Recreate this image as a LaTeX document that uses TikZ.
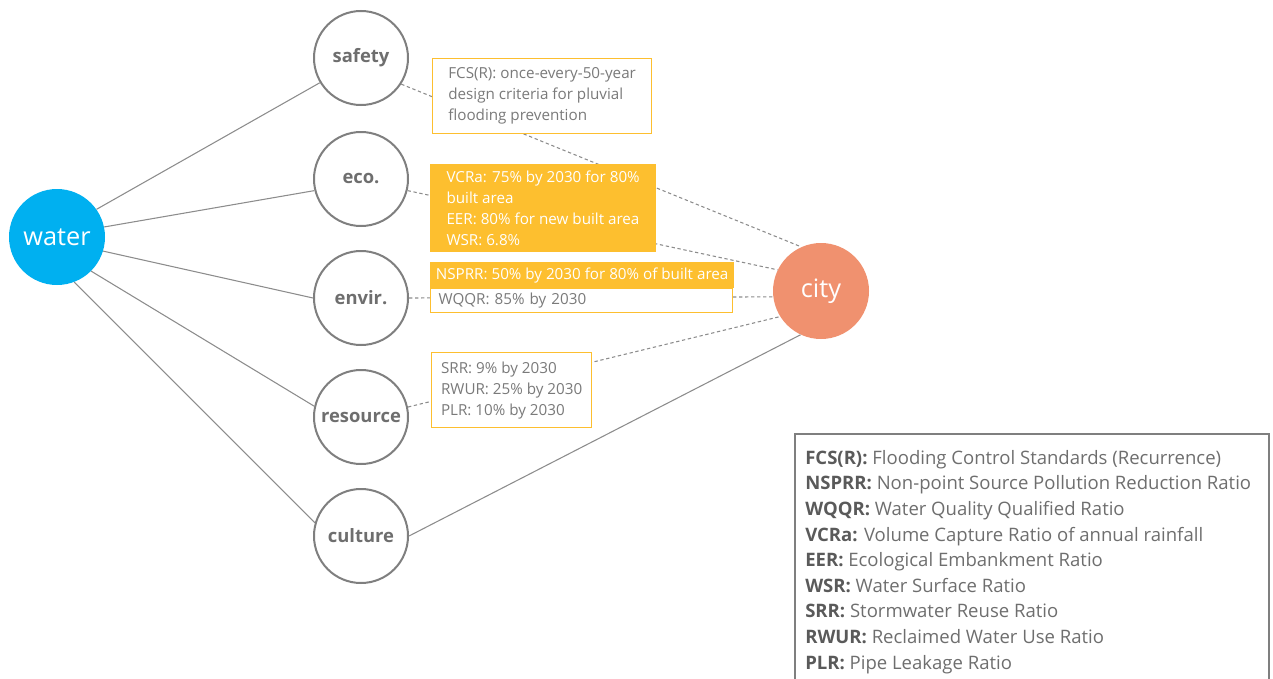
\documentclass[tikz,border=0pt]{standalone}
\usepackage{fontspec}
\setmainfont{Open Sans}
\usepackage{xcolor}
\usepackage{tikz}
\usetikzlibrary{positioning}
\definecolor{waterblue}{HTML}{00B0F0}
\definecolor{citycoral}{HTML}{F0916F}
\definecolor{ringgray}{HTML}{7F7F7F}
\definecolor{linegray}{HTML}{8C8C8C}
\definecolor{notegold}{HTML}{FDBF2F}
\definecolor{notegray}{HTML}{7A7A7A}
\definecolor{labelgray}{HTML}{6E6E6E}
\definecolor{keygray}{HTML}{5A5A5A}

\begin{document}
\begin{tikzpicture}[x=0.75pt, y=-0.75pt,
    hub/.style={circle, minimum size=72pt, inner sep=0pt, text=white, font=\fontsize{19}{22}\selectfont},
    aspect/.style={circle, draw=ringgray, line width=1.5pt, fill=white, minimum size=70.5pt, inner sep=0pt,
      text=labelgray, font=\bfseries\fontsize{13.8}{16}\selectfont},
    link/.style={draw=linegray, line width=0.8pt},
    dotlink/.style={link, dash pattern=on 2.5pt off 2pt},
    notebox/.style={rectangle, draw=notegold, line width=0.9pt, fill=white, text=notegray, align=left,
      anchor=north west, inner sep=0pt, font=\fontsize{11.4}{15.75}\selectfont},
    notefill/.style={notebox, fill=notegold, text=white},
    keytext/.style={anchor=north west, inner sep=0pt, align=left, text=labelgray,
      font=\fontsize{13.9}{19.2}\selectfont}]
  \useasboundingbox (0,0) rectangle (1273,678);

  \node[hub, fill=waterblue] (water) at (57,237) {water};
  \node[hub, fill=citycoral] (city) at (821,291) {city};

  \node[aspect] (safety) at (361,58) {safety};
  \node[aspect] (eco) at (361,179) {eco.};
  \node[aspect] (envir) at (361,298) {envir.};
  \node[aspect] (resource) at (361,417) {resource};
  \node[aspect] (culture) at (361,536) {culture};

  \draw[link] (water.35) -- (safety.211);
  \draw[link] (water.12) -- (eco.194);
  \draw[link] (water.-17) -- (envir.west);
  \draw[link] (water.-45) -- (resource.167);
  \draw[link] (water.-69) -- (culture.164);
  \draw[link] (culture.east) -- (city.245);

  \draw[dotlink] (safety.-33) -- (city.114);
  \draw[dotlink] (eco.-14) -- (city.154);
  \draw[dotlink] (envir.east) -- (city.187);
  \draw[dotlink] (resource.12) -- (city.212);

  \node[notebox, minimum width=164.25pt, minimum height=56.25pt] (fcsbox) at (432,58)
    {FCS(R): once-every-50-year\\design criteria for pluvial\\flooding prevention};
  \node[notefill, minimum width=168.75pt, minimum height=65.25pt] (vcrbox) at (430,164)
    {VCRa: 75\% by 2030 for 80\%\\built area\\EER: 80\% for new built area\\WSR: 6.8\%};
  \node[notefill, minimum width=227.25pt, minimum height=18.75pt] (nsprrbox) at (430,262)
    {NSPRR: 50\% by 2030 for 80\% of built area};
  \node[notebox, below=0pt of nsprrbox.south west, anchor=north west, inner xsep=6pt,
    text width=214.5pt, minimum height=18pt] (wqqrbox)
    {WQQR: 85\% by 2030};
  \node[notebox, minimum width=120pt, minimum height=56.25pt] (srrbox) at (431,352)
    {SRR: 9\% by 2030\\RWUR: 25\% by 2030\\PLR: 10\% by 2030};

  \draw[draw=ringgray, line width=1pt] (795,690) |- (1269,434) -- (1269,690);
  \node[keytext] (legend) at (805,450) {%
    \textbf{\color{keygray}FCS(R):} Flooding Control Standards (Recurrence)\\
    \textbf{\color{keygray}NSPRR:} Non-point Source Pollution Reduction Ratio\\
    \textbf{\color{keygray}WQQR:} Water Quality Qualified Ratio\\
    \textbf{\color{keygray}VCRa:} Volume Capture Ratio of annual rainfall\\
    \textbf{\color{keygray}EER:} Ecological Embankment Ratio\\
    \textbf{\color{keygray}WSR:} Water Surface Ratio\\
    \textbf{\color{keygray}SRR:} Stormwater Reuse Ratio\\
    \textbf{\color{keygray}RWUR:} Reclaimed Water Use Ratio\\
    \textbf{\color{keygray}PLR:} Pipe Leakage Ratio};
\end{tikzpicture}
\end{document}
